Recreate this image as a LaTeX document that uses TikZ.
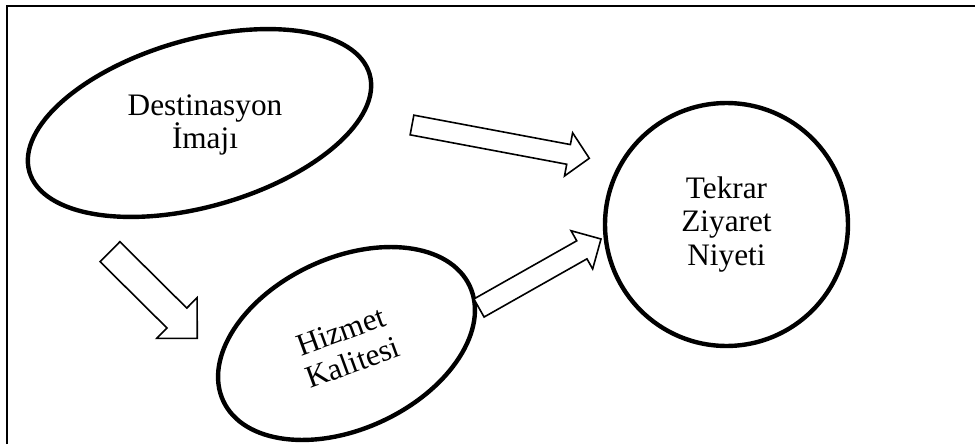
\documentclass[tikz,border=0pt]{standalone}
\usepackage{fontspec}
\setmainfont{Liberation Serif}
\usetikzlibrary{shapes,calc,positioning}

% hollow block arrow: from, to, half shaft, half head, head length
\newcommand{\blockarrow}[5]{%
  \draw[barrow] let \p1=($(#2)-(#1)$), \n1={atan2(\y1,\x1)}, \n2={veclen(\x1,\y1)-#5} in
    ($(#1)+(\n1-90:#3)$) -- ($(#1)+(\n1:\n2)+(\n1-90:#3)$) -- ($(#1)+(\n1:\n2)+(\n1-90:#4)$) -- (#2)
    -- ($(#1)+(\n1:\n2)+(\n1+90:#4)$) -- ($(#1)+(\n1:\n2)+(\n1+90:#3)$) -- ($(#1)+(\n1+90:#3)$) -- cycle;}

\begin{document}
\begin{tikzpicture}[x=0.02cm, y=0.02cm,
    oval/.style={draw, ellipse, line width=0.088cm, inner sep=0pt},
    lbl/.style={align=center, font=\fontsize{17.8}{19}\selectfont},
    ring/.style={draw, circle, line width=0.088cm, inner sep=0pt, lbl},
    barrow/.style={draw, fill=white, line width=0.032cm, line join=miter}]
    \useasboundingbox (0,0) rectangle (975,444);

    % Frame (cut at right and bottom)
    \draw[line width=0.04cm] (7,0) -- (7,438.5) -- (975,438.5);

    % Ovals
    \node[oval, minimum width=7.08cm, minimum height=3.34cm, rotate=16] (imaj) at (199.5,321) {};
    \node[lbl] (imajtxt) at (205,319) {Destinasyon\\İmajı};
    \node[oval, minimum width=5.44cm, minimum height=3.42cm, rotate=25] (hizmet) at (346.5,100.5) {};
    \node[lbl, rotate=20] (hizmettxt) at (347,97) {Hizmet\\Kalitesi};
    \node[ring, minimum size=4.86cm] (niyet) at (726.5,219.5) {Tekrar\\Ziyaret\\Niyeti};

    % Arrows
    \coordinate (a1s) at (412,319);
    \coordinate (a1e) at (589.3,285.7);
    \coordinate (a2s) at (110,192.3);
    \coordinate (a2e) at (197.3,105.7);
    \coordinate (a3s) at (479,136);
    \coordinate (a3e) at (601,205);
    \blockarrow{a1s}{a1e}{5.7pt}{12.5pt}{12pt}
    \blockarrow{a2s}{a2e}{8pt}{16.3pt}{16.3pt}
    \blockarrow{a3s}{a3e}{5.9pt}{12.5pt}{12.5pt}
\end{tikzpicture}
\end{document}
